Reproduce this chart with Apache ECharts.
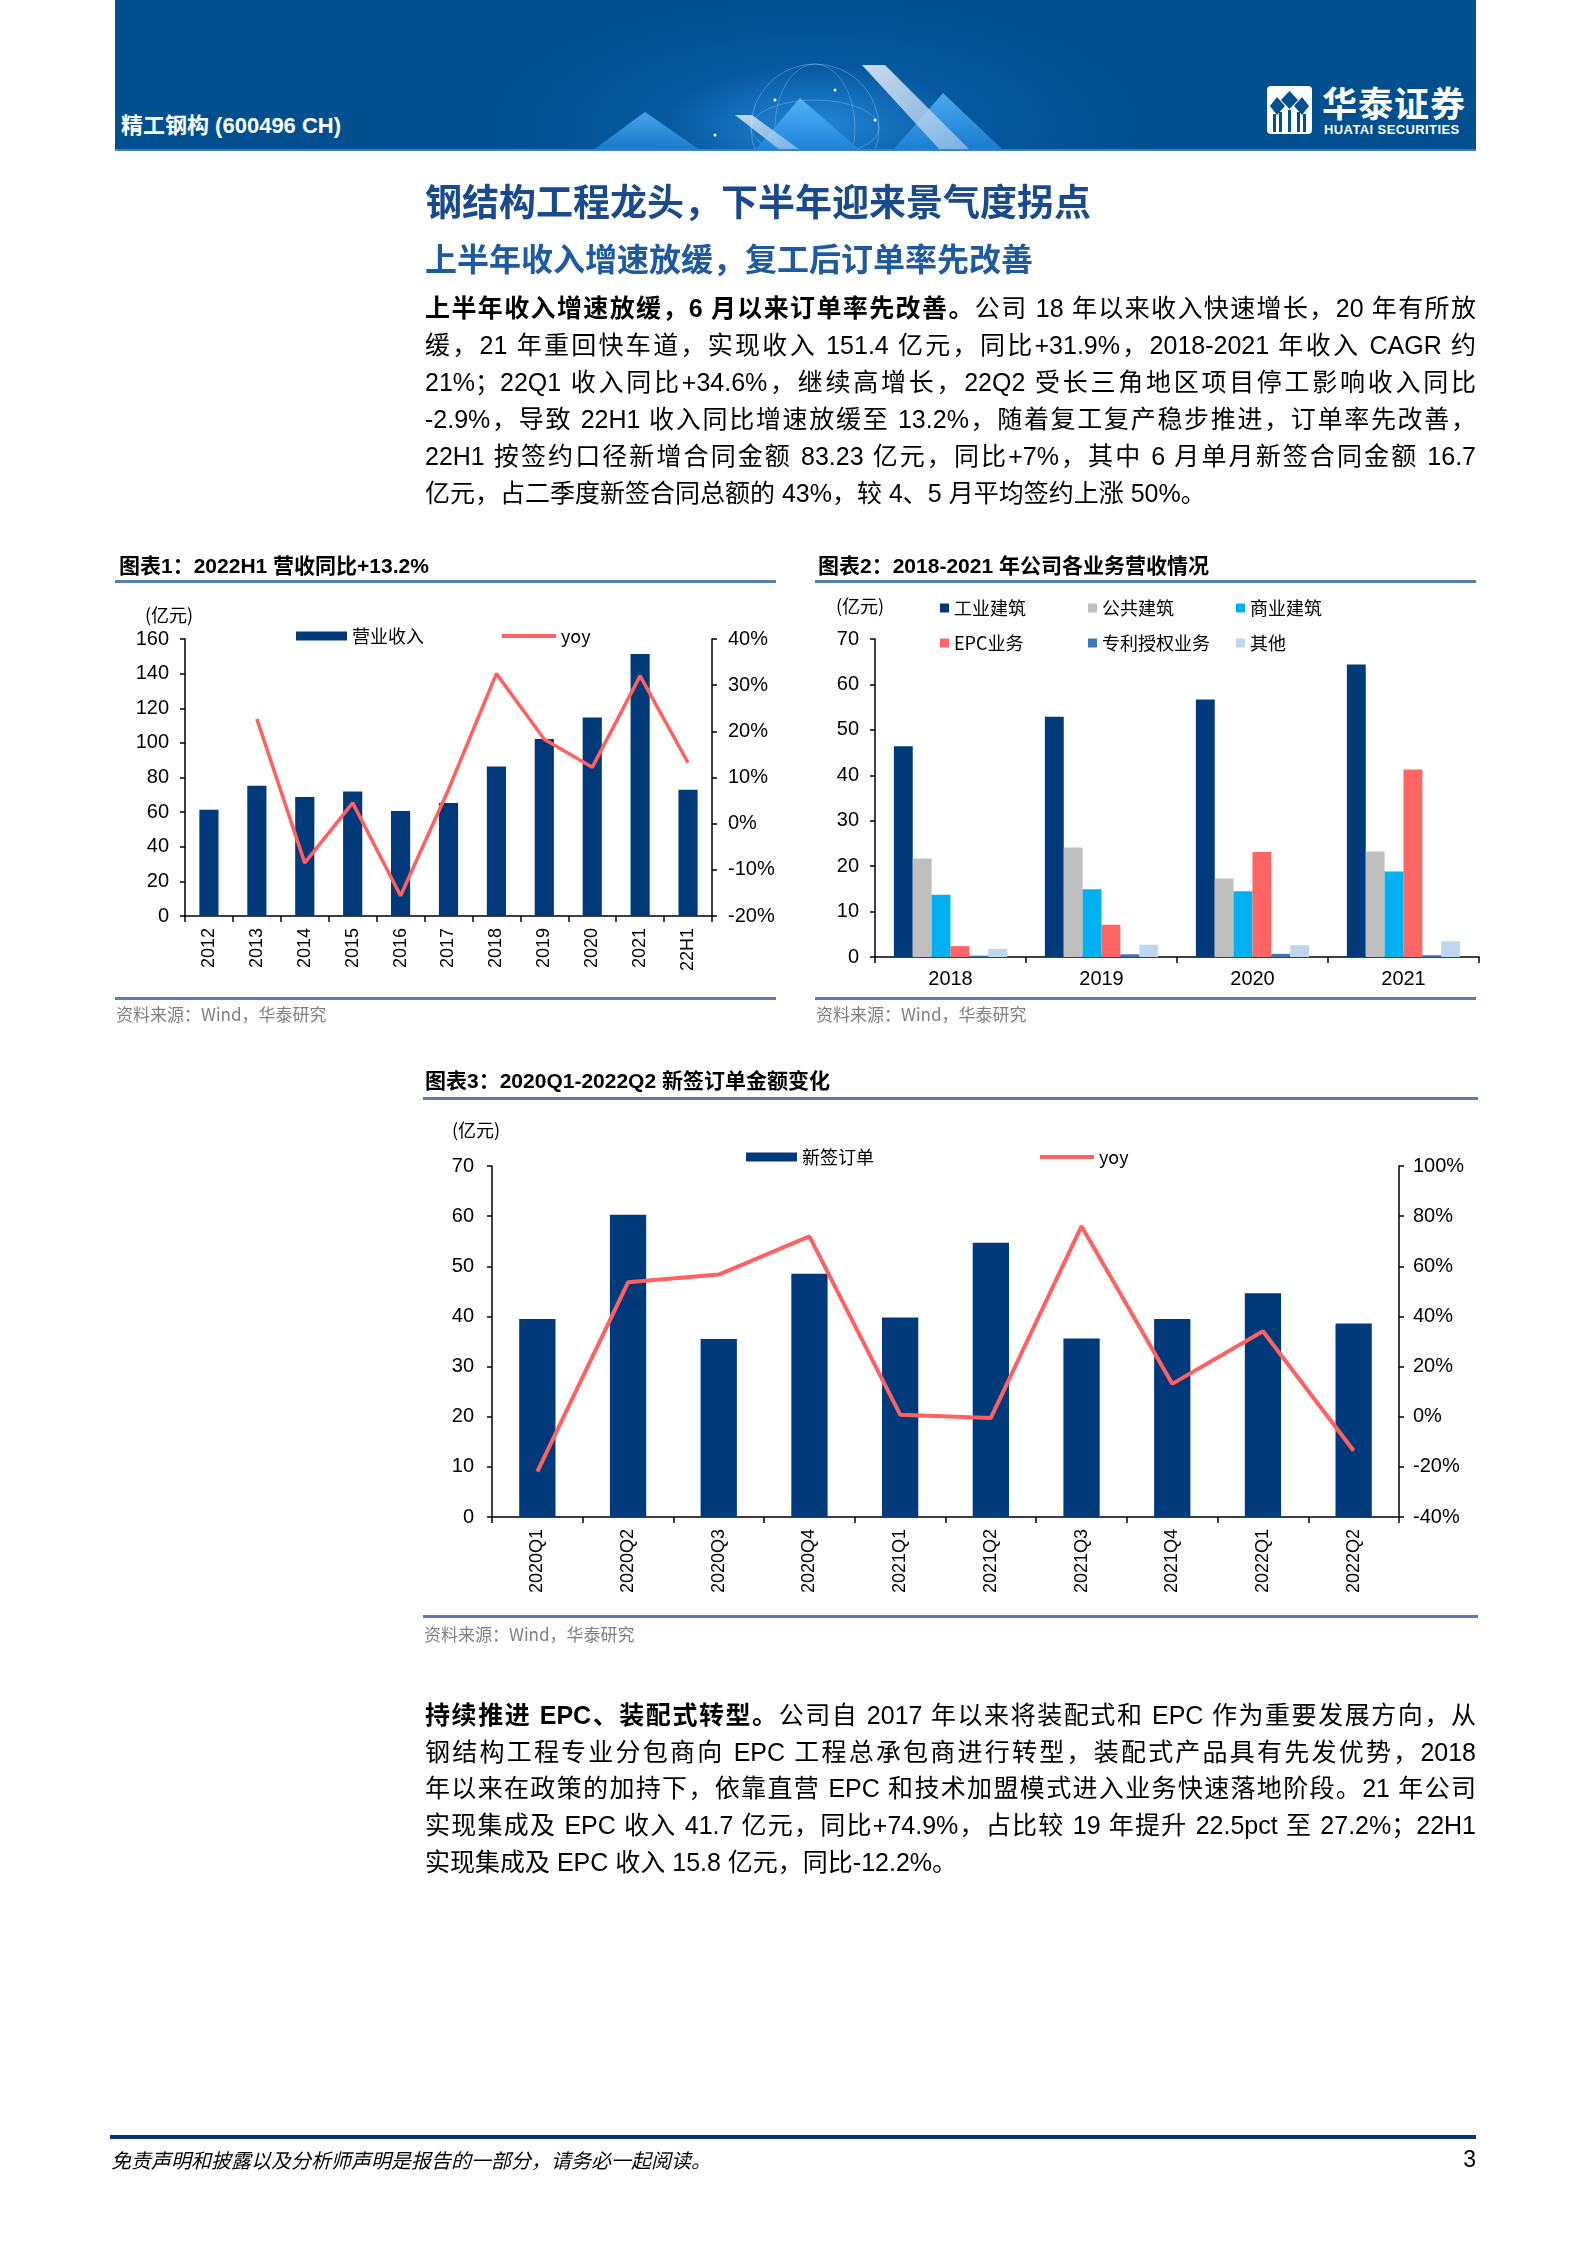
<!DOCTYPE html>
<html><head><meta charset="utf-8">
<script src="https://cdn.jsdelivr.net/npm/echarts@6/dist/echarts.min.js"></script>
<style>
body{margin:0;background:#fff;}
#page{position:relative;width:1587px;height:2245px;overflow:hidden;font-family:"Liberation Sans","Noto Sans CJK SC",sans-serif;color:#000;}
#chart{position:absolute;left:0;top:0;width:1587px;height:2245px;}
.t{position:absolute;white-space:nowrap;}
.rule{position:absolute;background:#5a7db0;height:3px;}
.src{position:absolute;white-space:nowrap;font-size:17px;color:#7f7f7f;font-family:"Noto Sans CJK SC",sans-serif;}
.ctitle{position:absolute;white-space:nowrap;font-size:21px;font-weight:bold;font-family:"Liberation Sans Narrow","Liberation Sans","Noto Sans CJK SC",sans-serif;line-height:26px;}
.pl{position:absolute;left:425px;width:1051px;font-size:25px;line-height:30px;height:30px;text-align:justify;text-align-last:justify;font-family:"Liberation Sans","Noto Sans CJK SC",sans-serif;}
.pl.last{text-align-last:left;}
</style></head>
<body>
<div id="page">
<div id="chart"></div>

<!-- header -->
<div style="position:absolute;left:115px;top:0;width:1361px;height:149px;background:radial-gradient(ellipse 330px 130px at 700px 125px,#2386d8 0%,rgba(10,95,170,0.6) 45%,rgba(0,80,143,0) 100%),#00508f;border-bottom:2px solid #3f7fc4;overflow:hidden;">
  <svg width="1361" height="149" style="position:absolute;left:0;top:0">
    <defs>
      <linearGradient id="g1" x1="0" y1="0" x2="0" y2="1"><stop offset="0" stop-color="#5cbcff" stop-opacity="0.95"/><stop offset="1" stop-color="#1f86dc" stop-opacity="0.9"/></linearGradient>
      <linearGradient id="g2" x1="0" y1="0" x2="1" y2="1"><stop offset="0" stop-color="#eef4fa" stop-opacity="0.95"/><stop offset="1" stop-color="#a6c9ec" stop-opacity="0.75"/></linearGradient>
    </defs>
    <circle cx="700" cy="128" r="64" fill="none" stroke="#9fd0ff" stroke-opacity="0.4" stroke-width="1"/>
    <ellipse cx="700" cy="128" rx="40" ry="64" fill="none" stroke="#9fd0ff" stroke-opacity="0.35" stroke-width="1"/>
    <ellipse cx="700" cy="128" rx="64" ry="28" fill="none" stroke="#9fd0ff" stroke-opacity="0.35" stroke-width="1"/>
    <polygon points="530,112 478,150 585,150" fill="url(#g1)" opacity="0.8"/>
    <polygon points="685,98 640,150 745,150" fill="url(#g1)" opacity="0.9"/>
    <polygon points="620,115 637,115 685,150 665,150" fill="url(#g2)" opacity="0.85"/>
    <polygon points="828,93 778,150 888,150" fill="url(#g1)" opacity="0.85"/>
    <polygon points="747,65 770,65 855,150 825,150" fill="url(#g2)" opacity="0.9"/>
    <circle cx="660" cy="100" r="1.5" fill="#fff"/><circle cx="720" cy="90" r="1.5" fill="#fff"/><circle cx="760" cy="120" r="1.5" fill="#fff"/><circle cx="600" cy="135" r="1.5" fill="#fff"/>
    <!-- logo icon -->
    <rect x="1152" y="86" width="45" height="48" rx="4" fill="#fff"/>
    <polygon points="1174.5,91 1183,100 1174.5,109 1166,100" fill="#00508f"/>
    <polygon points="1162,97 1170,106 1162,115 1155,106" fill="#00508f"/>
    <polygon points="1187,97 1194,106 1187,115 1179,106" fill="#00508f"/>
    <rect x="1158" y="114" width="3" height="18" fill="#00508f"/>
    <rect x="1164" y="112" width="3" height="20" fill="#00508f"/>
    <rect x="1182" y="112" width="3" height="20" fill="#00508f"/>
    <rect x="1188" y="114" width="3" height="18" fill="#00508f"/>
    <rect x="1173" y="110" width="3" height="22" fill="#00508f"/>
  </svg>
  <div class="t" style="left:6px;top:107px;font-size:22px;font-weight:bold;color:#fff;font-family:'Liberation Sans','Noto Sans CJK SC',sans-serif;">精工钢构 (600496 CH)</div>
  <div class="t" style="left:1207px;top:80px;font-size:35px;font-weight:bold;color:#fff;font-family:'Noto Sans CJK SC',sans-serif;line-height:44px;letter-spacing:1px;">华泰证券</div>
  <div class="t" style="left:1209px;top:123px;font-size:13px;font-weight:bold;color:#fff;line-height:14px;letter-spacing:0.4px;">HUATAI SECURITIES</div>
</div>

<!-- titles -->
<div class="t" style="left:425px;top:179px;font-size:37px;line-height:42px;font-weight:bold;color:#184a8c;font-family:'Noto Sans CJK SC',sans-serif;">钢结构工程龙头，下半年迎来景气度拐点</div>
<div class="t" style="left:425px;top:239px;font-size:32px;line-height:36px;font-weight:bold;color:#1d5aa0;font-family:'Noto Sans CJK SC',sans-serif;">上半年收入增速放缓，复工后订单率先改善</div>

<!-- paragraph 1 -->
<div class="pl" style="top:293px;"><b>上半年收入增速放缓，6 月以来订单率先改善。</b>公司 18 年以来收入快速增长，20 年有所放</div>
<div class="pl" style="top:330px;">缓，21 年重回快车道，实现收入 151.4 亿元，同比+31.9%，2018-2021 年收入 CAGR 约</div>
<div class="pl" style="top:367px;">21%；22Q1 收入同比+34.6%，继续高增长，22Q2 受长三角地区项目停工影响收入同比</div>
<div class="pl" style="top:404px;">-2.9%，导致 22H1 收入同比增速放缓至 13.2%，随着复工复产稳步推进，订单率先改善，</div>
<div class="pl" style="top:441px;">22H1 按签约口径新增合同金额 83.23 亿元，同比+7%，其中 6 月单月新签合同金额 16.7</div>
<div class="pl last" style="top:478px;">亿元，占二季度新签合同总额的 43%，较 4、5 月平均签约上涨 50%。</div>

<!-- chart titles / rules / sources -->
<div class="ctitle" style="left:119px;top:553px;">图表1：2022H1 营收同比+13.2%</div>
<div class="rule" style="left:115px;top:580px;width:661px;"></div>
<div class="rule" style="left:115px;top:997px;width:661px;"></div>
<div class="src" style="left:116px;top:1001px;">资料来源：Wind，华泰研究</div>

<div class="ctitle" style="left:818px;top:553px;">图表2：2018-2021 年公司各业务营收情况</div>
<div class="rule" style="left:815px;top:580px;width:661px;"></div>
<div class="rule" style="left:815px;top:997px;width:661px;"></div>
<div class="src" style="left:816px;top:1001px;">资料来源：Wind，华泰研究</div>

<div class="ctitle" style="left:425px;top:1068px;">图表3：2020Q1-2022Q2 新签订单金额变化</div>
<div class="rule" style="left:423px;top:1097px;width:1055px;"></div>
<div class="rule" style="left:423px;top:1615px;width:1055px;"></div>
<div class="src" style="left:424px;top:1621px;">资料来源：Wind，华泰研究</div>

<!-- paragraph 2 -->
<div class="pl" style="top:1700px;"><b>持续推进 EPC、装配式转型。</b>公司自 2017 年以来将装配式和 EPC 作为重要发展方向，从</div>
<div class="pl" style="top:1737px;">钢结构工程专业分包商向 EPC 工程总承包商进行转型，装配式产品具有先发优势，2018</div>
<div class="pl" style="top:1773px;">年以来在政策的加持下，依靠直营 EPC 和技术加盟模式进入业务快速落地阶段。21 年公司</div>
<div class="pl" style="top:1810px;">实现集成及 EPC 收入 41.7 亿元，同比+74.9%，占比较 19 年提升 22.5pct 至 27.2%；22H1</div>
<div class="pl last" style="top:1847px;">实现集成及 EPC 收入 15.8 亿元，同比-12.2%。</div>

<!-- footer -->
<div style="position:absolute;left:110px;top:2135px;width:1366px;height:4px;background:#003a7a;"></div>
<div class="t" style="left:111px;top:2147px;font-size:20px;line-height:26px;font-style:italic;font-family:'Noto Sans CJK SC',sans-serif;">免责声明和披露以及分析师声明是报告的一部分，请务必一起阅读。</div>
<div class="t" style="left:1450px;top:2145px;width:26px;text-align:right;font-size:23px;line-height:28px;">3</div>
</div>

<script>
// ---------- data ----------
const cats1 = ['2012','2013','2014','2015','2016','2017','2018','2019','2020','2021','22H1'];
const revenue = [61.3, 75.2, 68.8, 71.9, 60.7, 65.2, 86.4, 102.2, 114.7, 151.4, 72.9];
const revenueYoy = [null, 22.7, -8.5, 4.5, -15.6, 7.4, 32.5, 18.3, 12.2, 32.0, 13.2];

const cats2 = ['2018','2019','2020','2021'];
const industrial = [46.4, 52.9, 56.7, 64.4];
const publicBld = [21.7, 24.1, 17.3, 23.2];
const commercial = [13.7, 14.9, 14.5, 18.8];
const epcBiz = [2.4, 7.1, 23.1, 41.3];
const patent = [0.3, 0.6, 0.7, 0.4];
const others = [1.8, 2.7, 2.6, 3.5];

const cats3 = ['2020Q1','2020Q2','2020Q3','2020Q4','2021Q1','2021Q2','2021Q3','2021Q4','2022Q1','2022Q2'];
const orders = [39.5, 60.3, 35.5, 48.5, 39.8, 54.7, 35.6, 39.5, 44.6, 38.6];
const ordersYoy = [-21.9, 53.6, 56.7, 71.9, 0.8, -0.5, 76.0, 13.1, 34.1, -13.6];

// axis ranges [min, max, interval]
const c1Left = [0, 160, 20], c1Right = [-20, 40, 10];
const c2Left = [0, 70, 10];
const c3Left = [0, 70, 10], c3Right = [-40, 100, 20];

// ---------- styling ----------
const NAVY = '#003a7a', RED = '#ff6161';
const NUM = '"Liberation Sans Narrow","Liberation Sans",sans-serif';
const CAT = '"Liberation Sans",sans-serif';
const CJK = '"Noto Sans CJK SC","Liberation Sans",sans-serif';

function valAxis(grid, r, pos, pct, margin) {
  return {
    type: 'value', gridIndex: grid, position: pos, min: r[0], max: r[1], interval: r[2],
    axisLine: {show: true, lineStyle: {color: '#000', width: 1.5}},
    axisTick: {show: true, length: 5, lineStyle: {color: '#000', width: 1.5}},
    splitLine: {show: false},
    axisLabel: {color: '#000', fontSize: 20, fontFamily: NUM, margin: margin,
      formatter: pct ? '{value}%' : '{value}'}
  };
}
function catAxis(grid, data, rotate, fontSize, margin) {
  return {
    type: 'category', gridIndex: grid, data: data, boundaryGap: true,
    axisLine: {onZero: false, lineStyle: {color: '#000', width: 1.5}},
    axisTick: {show: true, interval: 0, length: 6, alignWithLabel: false, lineStyle: {color: '#000', width: 1.5}},
    axisLabel: {rotate: rotate, interval: 0, fontSize: fontSize, fontFamily: CAT, color: '#000', margin: margin}
  };
}
function leg(name, left, top, w, h, icon) {
  return {data: [{name: name, icon: icon}], left: left, top: top, itemWidth: w, itemHeight: h, padding: 0, itemGap: 0,
    selectedMode: false, textStyle: {fontSize: 18, fontFamily: CJK, color: '#000'}};
}

const option = {
  animation: false,
  grid: [
    {left: 185, top: 639, width: 527, height: 277},
    {left: 875, top: 639, width: 604, height: 318},
    {left: 492, top: 1166, width: 907, height: 351}
  ],
  xAxis: [
    catAxis(0, cats1, 90, 18, 12),
    catAxis(1, cats2, 0, 20, 12),
    catAxis(2, cats3, 90, 18, 12)
  ],
  yAxis: [
    valAxis(0, c1Left, 'left', false, 16),
    valAxis(0, c1Right, 'right', true, 16),
    valAxis(1, c2Left, 'left', false, 16),
    valAxis(2, c3Left, 'left', false, 18),
    valAxis(2, c3Right, 'right', true, 14)
  ],
  legend: [
    leg('营业收入', 296, 627, 51, 9, 'rect'),
    leg('yoy', 502, 627, 54, 4, 'rect'),
    leg('工业建筑', 940, 599, 9, 9, 'rect'),
    leg('公共建筑', 1088, 599, 9, 9, 'rect'),
    leg('商业建筑', 1236, 599, 9, 9, 'rect'),
    leg('EPC业务', 940, 634, 9, 9, 'rect'),
    leg('专利授权业务', 1088, 634, 9, 9, 'rect'),
    leg('其他', 1236, 634, 9, 9, 'rect'),
    leg('新签订单', 746, 1148, 51, 9, 'rect'),
    leg('yoy', 1040, 1148, 54, 4, 'rect')
  ],
  graphic: [
    {type: 'text', left: 145, top: 606, style: {text: '(亿元)', fontSize: 18, fontFamily: CJK, fill: '#000'}},
    {type: 'text', left: 836, top: 597, style: {text: '(亿元)', fontSize: 18, fontFamily: CJK, fill: '#000'}},
    {type: 'text', left: 452, top: 1121, style: {text: '(亿元)', fontSize: 18, fontFamily: CJK, fill: '#000'}}
  ],
  series: [
    {type: 'bar', name: '营业收入', xAxisIndex: 0, yAxisIndex: 0, data: revenue, barWidth: '40%', itemStyle: {color: NAVY}},
    {type: 'line', name: 'yoy', xAxisIndex: 0, yAxisIndex: 1, data: revenueYoy, symbol: 'none',
      lineStyle: {color: RED, width: 3.5}, itemStyle: {color: RED}},

    {type: 'bar', name: '工业建筑', xAxisIndex: 1, yAxisIndex: 2, data: industrial, barGap: '0%', barCategoryGap: '25%', itemStyle: {color: NAVY}},
    {type: 'bar', name: '公共建筑', xAxisIndex: 1, yAxisIndex: 2, data: publicBld, barGap: '0%', barCategoryGap: '25%', itemStyle: {color: '#bfbfbf'}},
    {type: 'bar', name: '商业建筑', xAxisIndex: 1, yAxisIndex: 2, data: commercial, barGap: '0%', barCategoryGap: '25%', itemStyle: {color: '#00b0f0'}},
    {type: 'bar', name: 'EPC业务', xAxisIndex: 1, yAxisIndex: 2, data: epcBiz, barGap: '0%', barCategoryGap: '25%', itemStyle: {color: '#ff6565'}},
    {type: 'bar', name: '专利授权业务', xAxisIndex: 1, yAxisIndex: 2, data: patent, barGap: '0%', barCategoryGap: '25%', itemStyle: {color: '#3f78ba'}},
    {type: 'bar', name: '其他', xAxisIndex: 1, yAxisIndex: 2, data: others, barGap: '0%', barCategoryGap: '25%', itemStyle: {color: '#bdd7ee'}},

    {type: 'bar', name: '新签订单', xAxisIndex: 2, yAxisIndex: 3, data: orders, barWidth: '40%', itemStyle: {color: NAVY}},
    {type: 'line', name: 'yoy', xAxisIndex: 2, yAxisIndex: 4, data: ordersYoy, symbol: 'none',
      lineStyle: {color: RED, width: 4}, itemStyle: {color: RED}}
  ]
};
const chart = echarts.init(document.getElementById('chart'), null, {renderer: 'canvas'});
chart.setOption(option);
</script>
</body></html>
